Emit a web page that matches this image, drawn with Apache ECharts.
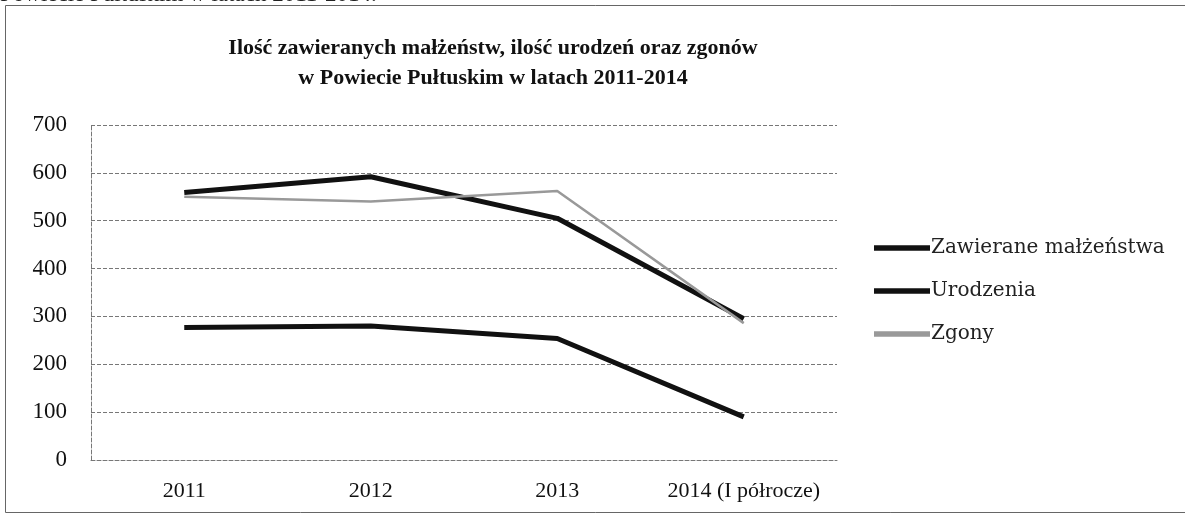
<!DOCTYPE html>
<html>
<head>
<meta charset="utf-8">
<script src="https://cdn.jsdelivr.net/npm/echarts@6/dist/echarts.min.js"></script>
<style>
  html, body { margin: 0; padding: 0; background: #fff; }
  #chart { width: 1185px; height: 520px; }
</style>
</head>
<body>
<div id="chart"></div>
<script>
// dane
const categories = ['2011', '2012', '2013', '2014 (I półrocze)'];
const malzenstwa = [277, 280, 254, 90];
const urodzenia = [559, 592, 505, 295];
const zgony = [550, 540, 562, 286];
const yTicks = [0, 100, 200, 300, 400, 500, 600, 700];

const serif = '"Liberation Serif", "DejaVu Serif", serif';
const chart = echarts.init(document.getElementById('chart'));

const option = {
  backgroundColor: '#fff',
  animation: false,
  title: {
    text: 'Ilość zawieranych małżeństw, ilość urodzeń oraz zgonów\nw Powiecie Pułtuskim w latach 2011-2014',
    left: 488,
    top: 28,
    textAlign: 'center',
    textStyle: {
      fontFamily: serif,
      fontWeight: 'bold',
      fontSize: 22,
      lineHeight: 30,
      color: '#111'
    }
  },
  graphic: [
    {
      type: 'rect',
      shape: { x: 5.5, y: 5.5, width: 1200, height: 507 },
      style: { fill: 'none', stroke: '#666', lineWidth: 1 }
    },
    {
      type: 'text',
      left: 0,
      top: -17,
      style: {
        text: 'Powiecie Pułtuskim w latach 2011-2014.',
        font: '23px "Liberation Serif"',
        fill: '#222'
      }
    }
  ],
  legend: {
    orient: 'vertical',
    left: 869,
    top: 233,
    itemWidth: 56,
    itemHeight: 14,
    itemGap: 23,
    icon: 'path://M0,0 L10,0 L10,1 L0,1 Z',
    textStyle: {
      fontFamily: '"DejaVu Serif", serif',
      fontSize: 20,
      color: '#222',
      padding: [0, 0, 0, -4]
    },
    data: ['Zawierane małżeństwa', 'Urodzenia', 'Zgony']
  },
  grid: {
    left: 91,
    right: 348,
    top: 125,
    bottom: 60
  },
  xAxis: {
    type: 'category',
    data: categories,
    boundaryGap: true,
    axisTick: { show: false },
    axisLine: {
      lineStyle: { color: '#777', width: 1, type: 'dashed' }
    },
    axisLabel: {
      interval: 0,
      hideOverlap: false,
      fontFamily: serif,
      fontSize: 22,
      color: '#111',
      margin: 20
    }
  },
  yAxis: {
    type: 'value',
    min: 0,
    max: yTicks[yTicks.length - 1],
    interval: 100,
    axisTick: { show: false },
    axisLine: {
      show: true,
      lineStyle: { color: '#777', width: 1, type: 'dashed' }
    },
    axisLabel: {
      fontFamily: serif,
      fontSize: 23,
      color: '#111',
      margin: 24
    },
    splitLine: {
      lineStyle: { color: '#777', width: 1, type: 'dashed' }
    }
  },
  series: [
    {
      name: 'Zawierane małżeństwa',
      type: 'line',
      data: malzenstwa,
      symbol: 'none',
      lineStyle: { color: '#111', width: 5 },
      itemStyle: { color: '#111' }
    },
    {
      name: 'Urodzenia',
      type: 'line',
      data: urodzenia,
      symbol: 'none',
      lineStyle: { color: '#111', width: 5 },
      itemStyle: { color: '#111' }
    },
    {
      name: 'Zgony',
      type: 'line',
      data: zgony,
      symbol: 'none',
      lineStyle: { color: '#999', width: 2.5 },
      itemStyle: { color: '#999' }
    }
  ]
};

chart.setOption(option);

window.addEventListener('resize', () => {
  chart.resize();
});
</script>
</body>
</html>
